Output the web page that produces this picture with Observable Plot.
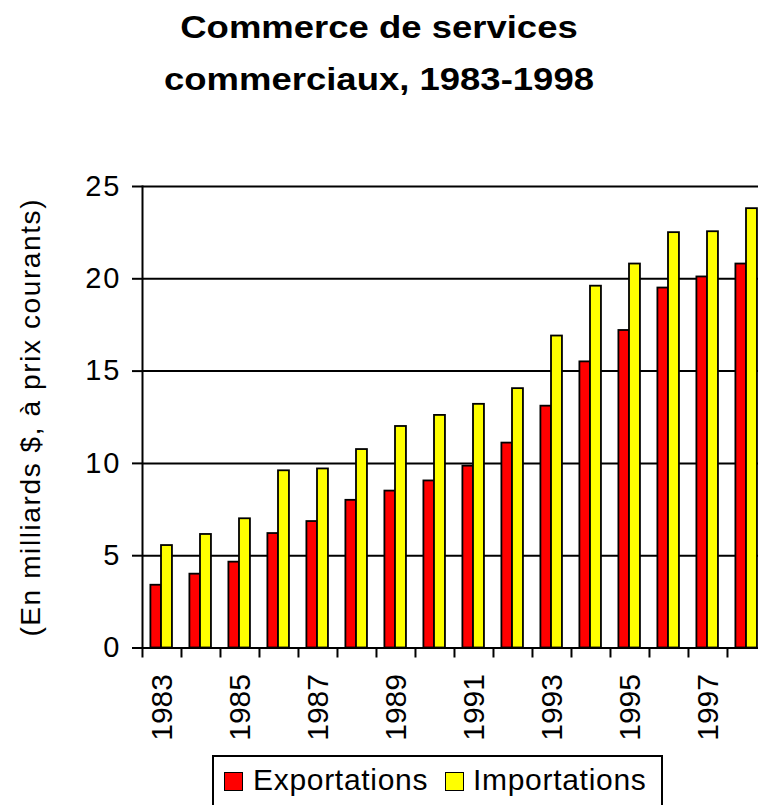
<!DOCTYPE html>
<html>
<head>
<meta charset="utf-8">
<script src="https://cdn.jsdelivr.net/npm/d3@7"></script>
<script src="https://cdn.jsdelivr.net/npm/@observablehq/plot@0.6"></script>
<style>
  html, body { margin: 0; padding: 0; background: #fff; overflow: hidden; }
  #wrap { position: relative; width: 758px; height: 805px; overflow: hidden; font-family: "Liberation Sans", Arial, sans-serif; }
  #chart { position: absolute; left: 0; top: 0; }
  #title { position: absolute; left: 0; top: 1px; width: 758px; text-align: center; font-weight: bold; font-size: 32px; line-height: 52px; transform: scaleX(1.14); transform-origin: 379px 0; color: #000; }
  #legend { position: absolute; left: 212px; top: 755px; width: 447px; height: 70px; border: 2px solid #000; background: #fff; }
  .sw { position: absolute; width: 17px; height: 17px; border: 1.5px solid #000; }
  .lt { position: absolute; font-size: 30px; line-height: 30px; letter-spacing: 0.7px; color: #000; white-space: nowrap; }
  g[aria-label="y-axis tick label"] text { letter-spacing: 2px; }
  g[aria-label="text"] text { letter-spacing: 1.6px; }
</style>
</head>
<body>
<div id="wrap">
  <div id="chart"></div>
  <div id="title"></div>
  <div id="legend"></div>
</div>
<script>
const titleLines = ["Commerce de services", "commerciaux, 1983-1998"];
const yLabel = "(En milliards $, à prix courants)";
const seriesNames = ["Exportations", "Importations"];
const seriesColors = ["#ff0000", "#ffff00"];
const years = [1983, 1984, 1985, 1986, 1987, 1988, 1989, 1990, 1991, 1992, 1993, 1994, 1995, 1996, 1997, 1998];
const exportations = [3.4, 4.0, 4.65, 6.2, 6.85, 8.0, 8.5, 9.05, 9.85, 11.1, 13.1, 15.5, 17.2, 19.5, 20.1, 20.8];
const importations = [5.55, 6.15, 7.0, 9.6, 9.7, 10.75, 12.0, 12.6, 13.2, 14.05, 16.9, 19.6, 20.8, 22.5, 22.55, 23.8];
const yTicks = [0, 5, 10, 15, 20, 25];
const xLabelYears = [1983, 1985, 1987, 1989, 1991, 1993, 1995, 1997];

const rows = [];
years.forEach((yr, i) => {
  rows.push({year: yr, series: seriesNames[0], value: exportations[i]});
  rows.push({year: yr, series: seriesNames[1], value: importations[i]});
});

const W = 758, H = 805;
const mLeft = 142, mTop = 186, mBottom = 157.5;
const step = 39.05;
const xRange = [mLeft, mLeft + step * years.length];

const plot = Plot.plot({
  width: W,
  height: H,
  marginLeft: mLeft,
  marginRight: 0,
  marginTop: mTop,
  marginBottom: mBottom,
  style: {fontFamily: '"Liberation Sans", Arial, sans-serif', color: "#000", background: "transparent"},
  x: {type: "band", domain: years, range: xRange, padding: 0},
  y: {domain: [0, 25], ticks: yTicks},
  color: {domain: seriesNames, range: seriesColors},
  marks: [
    Plot.gridY(yTicks.filter(d => d > 0), {stroke: "#000", strokeOpacity: 1, strokeWidth: 2}),
    Plot.barY(rows.filter(d => d.series === seriesNames[0]), {x: "year", y: "value", fill: "series", stroke: "#000", strokeWidth: 1.8, insetLeft: 8.4, insetRight: step - 19.0}),
    Plot.barY(rows.filter(d => d.series === seriesNames[1]), {x: "year", y: "value", fill: "series", stroke: "#000", strokeWidth: 1.8, insetLeft: 19.0, insetRight: step - 30.0}),
    Plot.ruleY([0], {stroke: "#000", strokeWidth: 2}),
    Plot.frame({anchor: "left", stroke: "#000", strokeWidth: 2}),
    Plot.axisY({ticks: yTicks, tickSize: 10, tickPadding: 11, fontSize: 29, label: null, strokeWidth: 2}),
    Plot.axisX({ticks: years, tickSize: 10, fill: "none", dx: -step / 2, label: null, strokeWidth: 2}),
    Plot.axisX({ticks: xLabelYears, tickFormat: d => String(d), tickSize: 0, tickRotate: -90, tickPadding: 26, fontSize: 30, label: null}),
    Plot.text([yLabel], {frameAnchor: "left", textAnchor: "middle", lineAnchor: "middle", rotate: -90, dx: -111, fontSize: 28, fill: "#000"})
  ]
});
document.getElementById("chart").appendChild(plot);

document.getElementById("title").innerHTML = titleLines.join("<br>");

const legend = document.getElementById("legend");
const lx = [[10, 39], [231, 259]];
seriesNames.forEach((name, i) => {
  const sw = document.createElement("div");
  sw.className = "sw";
  sw.style.left = lx[i][0] + "px";
  sw.style.top = "15px";
  sw.style.background = seriesColors[i];
  legend.appendChild(sw);
  const t = document.createElement("div");
  t.className = "lt";
  t.style.left = lx[i][1] + "px";
  t.style.top = "7.5px";
  t.textContent = name;
  legend.appendChild(t);
});
</script>
</body>
</html>
